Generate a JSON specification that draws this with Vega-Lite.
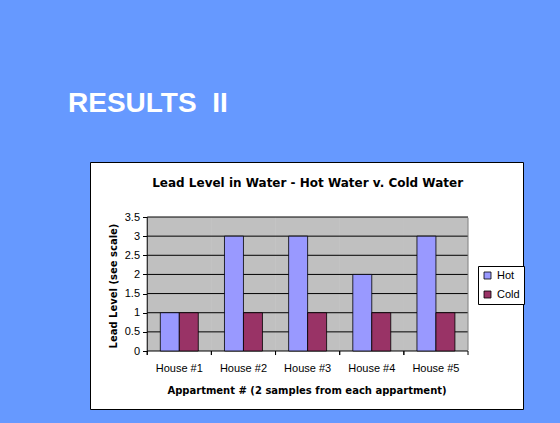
{
  "$schema": "https://vega.github.io/schema/vega-lite/v6.json",
  "width": 433,
  "height": 247,
  "autosize": "none",
  "padding": {"left": 90, "top": 162, "right": 37, "bottom": 14},
  "background": "#6699FF",
  "title": {
    "text": "RESULTS \u00a0II",
    "anchor": "start",
    "frame": "group",
    "offset": 44,
    "dx": -22,
    "font": "Liberation Sans",
    "fontSize": 28,
    "fontWeight": "bold",
    "color": "white"
  },
  "datasets": {
    "lead": [
      {"house": "House #1", "series": "Hot", "value": 1},
      {"house": "House #1", "series": "Cold", "value": 1},
      {"house": "House #2", "series": "Hot", "value": 3},
      {"house": "House #2", "series": "Cold", "value": 1},
      {"house": "House #3", "series": "Hot", "value": 3},
      {"house": "House #3", "series": "Cold", "value": 1},
      {"house": "House #4", "series": "Hot", "value": 2},
      {"house": "House #4", "series": "Cold", "value": 1},
      {"house": "House #5", "series": "Hot", "value": 3},
      {"house": "House #5", "series": "Cold", "value": 1}
    ],
    "gridlevels": [{"v": 0.5}, {"v": 1}, {"v": 1.5}, {"v": 2}, {"v": 2.5}, {"v": 3}, {"v": 3.5}, {"v": 0}],
    "one": [{"k": 1}]
  },
  "data": {"name": "lead"},
  "resolve": {"axis": {"x": "independent", "y": "independent"}},
  "layer": [
    {
      "mark": {"type": "rect", "fill": "#C0C0C0"},
      "encoding": {
        "x": {"field": "house", "type": "nominal", "axis": null},
        "y": {"datum": 0, "type": "quantitative", "axis": null},
        "y2": {"datum": 3.5}
      }
    },
    {
      "data": {"name": "gridlevels"},
      "mark": {"type": "rule", "color": "black", "strokeWidth": 1},
      "encoding": {
        "x": {"datum": "House #1", "type": "nominal", "bandPosition": 0, "axis": null},
        "x2": {"datum": "House #5", "bandPosition": 1},
        "y": {"field": "v", "type": "quantitative", "axis": null}
      }
    },
    {
      "mark": {"type": "rule", "color": "black", "strokeWidth": 1},
      "encoding": {
        "x": {"field": "house", "type": "nominal", "bandPosition": 0, "axis": null},
        "y": {"datum": 0, "type": "quantitative", "axis": null},
        "y2": {"datum": -0.105}
      }
    },
    {
      "data": {"name": "one"},
      "mark": {"type": "rule", "color": "black", "strokeWidth": 1},
      "encoding": {
        "x": {"datum": "House #5", "type": "nominal", "bandPosition": 1, "axis": null},
        "y": {"datum": 0, "type": "quantitative", "axis": null},
        "y2": {"datum": -0.105}
      }
    },
    {
      "mark": {"type": "bar", "stroke": "black", "strokeWidth": 0.8},
      "encoding": {
        "x": {
          "field": "house",
          "type": "nominal",
          "title": "Appartment # (2 samples from each appartment)",
          "scale": {"paddingInner": 0, "paddingOuter": 0.8745, "align": 0.51},
          "axis": {
            "orient": "bottom",
            "offset": -58,
            "titleFont": "DejaVu Sans",
            "titleFontWeight": "bold",
            "titleFontSize": 10,
            "titleColor": "black",
            "titlePadding": 12,
            "labelFont": "Liberation Sans",
            "labelFontSize": 11,
            "labelColor": "black",
            "labelAngle": 0,
            "labelAlign": "center",
            "labelPadding": 11,
            "domain": false,
            "ticks": false,
            "grid": false
          }
        },
        "xOffset": {
          "field": "series",
          "type": "nominal",
          "sort": ["Hot", "Cold"],
          "scale": {"domain": ["Hot", "Cold"], "paddingInner": 0, "paddingOuter": 0.69}
        },
        "y": {
          "field": "value",
          "type": "quantitative",
          "title": "Lead Level (see scale)",
          "scale": {"domain": [-1.515, 4.937], "nice": false, "zero": false},
          "axis": {
            "orient": "left",
            "offset": -57.5,
            "values": [0, 0.5, 1, 1.5, 2, 2.5, 3, 3.5],
            "format": ".1~f",
            "labelOverlap": false,
            "titleFont": "DejaVu Sans",
            "titleFontWeight": "bold",
            "titleFontSize": 10,
            "titleColor": "black",
            "titlePadding": 6,
            "labelFont": "Liberation Sans",
            "labelFontSize": 11,
            "labelColor": "black",
            "labelPadding": 3,
            "domain": false,
            "ticks": true,
            "tickSize": 5,
            "tickColor": "black",
            "grid": false
          }
        },
        "color": {
          "field": "series",
          "type": "nominal",
          "sort": ["Hot", "Cold"],
          "scale": {"domain": ["Hot", "Cold"], "range": ["#9999FF", "#993366"]},
          "legend": {
            "orient": "none",
            "legendX": 388,
            "legendY": 104,
            "title": null,
            "fillColor": "white",
            "strokeColor": "black",
            "padding": 4,
            "symbolType": "square",
            "symbolSize": 49,
            "symbolStrokeColor": "black",
            "symbolStrokeWidth": 0.8,
            "labelFont": "Liberation Sans",
            "labelFontSize": 11,
            "labelColor": "black",
            "labelOffset": 4,
            "rowPadding": 7
          }
        }
      }
    },
    {
      "data": {"name": "one"},
      "mark": {"type": "rule", "color": "#808080", "strokeWidth": 1},
      "encoding": {
        "x": {"datum": "House #5", "type": "nominal", "bandPosition": 1, "axis": null},
        "y": {"datum": 0.02, "type": "quantitative", "axis": null},
        "y2": {"datum": 3.48}
      }
    },
    {
      "data": {"name": "one"},
      "mark": {"type": "rule", "color": "black", "strokeWidth": 1},
      "encoding": {
        "x": {"datum": "House #1", "type": "nominal", "bandPosition": 0, "axis": null},
        "y": {"datum": 0, "type": "quantitative", "axis": null},
        "y2": {"datum": 3.5}
      }
    },
    {
      "data": {"name": "one"},
      "mark": {"type": "text", "font": "DejaVu Sans", "fontWeight": "bold", "fontSize": 12, "color": "black", "align": "center", "baseline": "alphabetic"},
      "encoding": {
        "x": {"datum": "House #3", "type": "nominal", "axis": null},
        "y": {"datum": 4.29, "type": "quantitative", "axis": null},
        "text": {"value": "Lead Level in Water - Hot Water v. Cold Water"}
      }
    }
  ],
  "config": {
    "view": {"fill": "white", "stroke": "black", "strokeWidth": 1}
  }
}
